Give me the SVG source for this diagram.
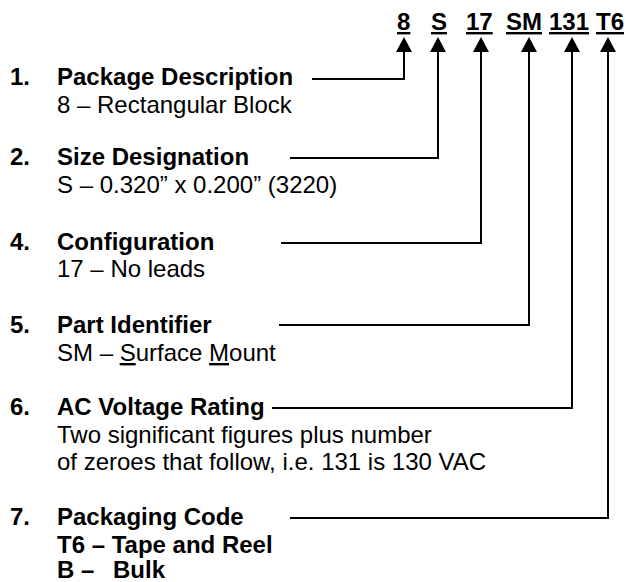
<svg xmlns="http://www.w3.org/2000/svg" width="626" height="582" viewBox="0 0 626 582">
<style>
text{font-family:"Liberation Sans",Arial,sans-serif;font-size:24px;fill:#000}
.b{font-weight:bold}
.code{font-weight:bold;font-size:24px;text-decoration:underline}
.u{text-decoration:underline}
.conn{fill:none;stroke:#000;stroke-width:2;stroke-linejoin:miter}
</style>
<defs>
<marker id="ah" viewBox="0 0 15 16" refX="0" refY="8" markerWidth="15" markerHeight="16" markerUnits="userSpaceOnUse" orient="auto">
<path d="M0,0 L15,8 L0,16 z" fill="#000"/>
</marker>
</defs>
<rect width="626" height="582" fill="#fff"/>
<g id="codes">
<text class="code" x="397" y="30">8</text>
<text class="code" x="431" y="30">S</text>
<text class="code" x="466" y="30">17</text>
<text class="code" x="506" y="30">SM</text>
<text class="code" x="549" y="30">131</text>
<text class="code" x="596" y="30">T6</text>
</g>
<g id="connectors">
<path class="conn" marker-end="url(#ah)" d="M312,79 H404 V52"/>
<path class="conn" marker-end="url(#ah)" d="M290,158 H438 V52"/>
<path class="conn" marker-end="url(#ah)" d="M281,243 H481 V52"/>
<path class="conn" marker-end="url(#ah)" d="M279,325 H529 V52"/>
<path class="conn" marker-end="url(#ah)" d="M272,408 H572 V52"/>
<path class="conn" marker-end="url(#ah)" d="M290,518 H608 V52"/>
</g>
<g id="item1">
<text class="b" x="10" y="85">1.</text>
<text class="b" x="57" y="85">Package Description</text>
<text x="57" y="113">8 – Rectangular Block</text>
</g>
<g id="item2">
<text class="b" x="10" y="165">2.</text>
<text class="b" x="57" y="165">Size Designation</text>
<text x="57" y="193">S – 0.320” x 0.200” (3220)</text>
</g>
<g id="item4">
<text class="b" x="10" y="250">4.</text>
<text class="b" x="57" y="250">Configuration</text>
<text x="57" y="277">17 – No leads</text>
</g>
<g id="item5">
<text class="b" x="10" y="333">5.</text>
<text class="b" x="57" y="333">Part Identifier</text>
<text x="57" y="361">SM – <tspan class="u">S</tspan>urface <tspan class="u">M</tspan>ount</text>
</g>
<g id="item6">
<text class="b" x="10" y="415">6.</text>
<text class="b" x="57" y="415">AC Voltage Rating</text>
<text x="57" y="443">Two significant figures plus number</text>
<text x="57" y="470">of zeroes that follow, i.e. 131 is 130 VAC</text>
</g>
<g id="item7">
<text class="b" x="10" y="525">7.</text>
<text class="b" x="57" y="525">Packaging Code</text>
<text class="b" x="57" y="553">T6 – Tape and Reel</text>
<text class="b" x="57" y="578">B –<tspan x="113">Bulk</tspan></text>
</g>
</svg>
